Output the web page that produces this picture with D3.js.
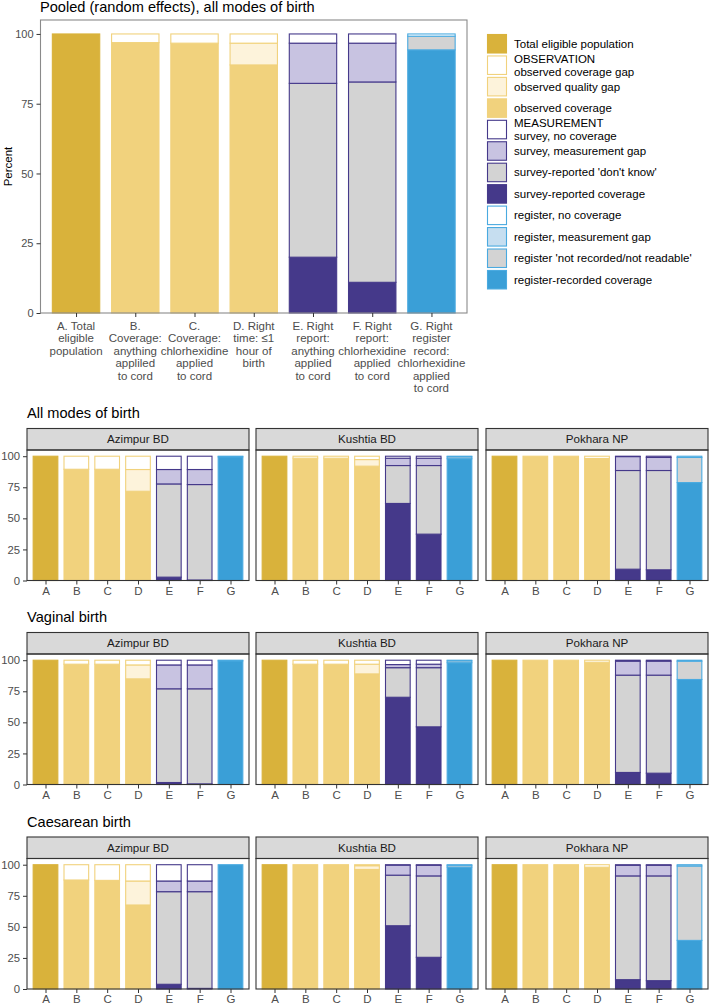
<!DOCTYPE html>
<html><head><meta charset="utf-8">
<script src="https://cdn.jsdelivr.net/npm/d3@7"></script>
<style>body{margin:0;background:#fff}svg{display:block;font-family:"Liberation Sans",Arial,sans-serif}</style>
</head><body><svg id="c" width="709" height="1004"></svg>
<script>
// ---------- DATA ----------
const barCodes = ["A","B","C","D","E","F","G"];
const pooledLabels = [
  ["A. Total","eligible","population"],
  ["B.","Coverage:","anything","appliled","to cord"],
  ["C.","Coverage:","chlorhexidine","applied","to cord"],
  ["D. Right","time: \u22641","hour of","birth"],
  ["E. Right","report:","anything","applied","to cord"],
  ["F. Right","report:","chlorhexidine","applied","to cord"],
  ["G. Right","register","record:","chlorhexidine","applied","to cord"]
];
// segment types per bar, stacked bottom -> top
const barSegmentTypes = [
  ["total"],
  ["obsCov","obsQual","obsGap"],
  ["obsCov","obsQual","obsGap"],
  ["obsCov","obsQual","obsGap"],
  ["svCov","svDK","svGap","svNo"],
  ["svCov","svDK","svGap","svNo"],
  ["rgCov","rgNR","rgGap","rgNo"]
];
const pooledValues = [[100],[96.9,0,3.1],[96.7,0,3.3],[88.9,7.8,3.3],[20,62.3,14.4,3.3],[11,71.8,13.9,3.3],[94.3,4.9,0,0.8]];

const siteNames = ["Azimpur BD","Kushtia BD","Pokhara NP"];
const modeTitles = ["All modes of birth","Vaginal birth","Caesarean birth"];

const allAzimpur = [[100],[89.5,0,10.5],[89.5,0,10.5],[71.8,17.5,10.7],[2.7,75,11.6,10.7],[0.4,76.8,12.1,10.7],[99.5,0,0,0.5]];
const allKushtia = [[100],[98.4,0,1.6],[98.4,0,1.6],[92,5.3,2.7],[62,30.5,5.9,1.6],[37.3,55.2,5.9,1.6],[98,1.5,0,0.5]];
const allPokhara = [[100],[100,0,0],[100,0,0],[98.2,0,1.8],[9.1,79.4,11.2,0.3],[8.6,79.9,10.5,1],[78.8,20.2,0,1]];

const vagAzimpur = [[100],[96.8,0,3.2],[96.8,0,3.2],[85,11.2,3.8],[1.6,75.4,19.2,3.8],[0.5,76.5,19.2,3.8],[99.5,0,0,0.5]];
const vagKushtia = [[100],[96.8,0,3.2],[96.8,0,3.2],[89,7.8,3.2],[70.2,23.8,2.5,3.5],[46.4,47.6,2.8,3.2],[98,1.5,0,0.5]];
const vagPokhara = [[100],[100,0,0],[100,0,0],[98.4,0,1.6],[9.7,78.3,11.2,0.8],[9.1,78.9,11.2,0.8],[84.5,14.7,0,0.8]];

const caeAzimpur = [[100],[87.7,0,12.3],[87.4,0,12.6],[67.6,19.3,13.1],[3.8,74.5,8.6,13.1],[0.5,77.8,8.6,13.1],[100,0,0,0]];
const caeKushtia = [[100],[100,0,0],[100,0,0],[96.2,3,0.8],[50.9,40.7,8,0.4],[25.5,65.5,8.5,0.5],[98.1,1.4,0,0.5]];
const caePokhara = [[100],[100,0,0],[100,0,0],[98,0,2],[7.5,83.5,8.5,0.5],[6.7,84.3,8.5,0.5],[39.1,59.9,0,1]];

const facetValues = [
  [allAzimpur, allKushtia, allPokhara],
  [vagAzimpur, vagKushtia, vagPokhara],
  [caeAzimpur, caeKushtia, caePokhara]
];
const yTicks = [0,25,50,75,100];

const legendTypes = ["total","obsGap","obsQual","obsCov","svNo","svGap","svDK","svCov","rgNo","rgGap","rgNR","rgCov"];
const legendLabels = [
  ["Total eligible population"],
  ["OBSERVATION","observed coverage gap"],
  ["observed quality gap"],
  ["observed coverage"],
  ["MEASUREMENT","survey, no coverage"],
  ["survey, measurement gap"],
  ["survey-reported 'don't know'"],
  ["survey-reported coverage"],
  ["register, no coverage"],
  ["register, measurement gap"],
  ["register 'not recorded/not readable'"],
  ["register-recorded coverage"]
];

// ---------- STYLES ----------
const GOLD="#D9B23B", YEL="#F1D27D", PUR="#45398A", BLU="#3A9FD7", BLUO="#4AAAE0";
const style = {
  total:{fill:GOLD,stroke:GOLD},
  obsCov:{fill:YEL,stroke:YEL},
  obsQual:{fill:"#FDF3DB",stroke:YEL},
  obsGap:{fill:"#FFFFFF",stroke:YEL},
  svCov:{fill:PUR,stroke:PUR},
  svDK:{fill:"#D3D3D3",stroke:PUR},
  svGap:{fill:"#C8C3E1",stroke:PUR},
  svNo:{fill:"#FFFFFF",stroke:PUR},
  rgCov:{fill:BLU,stroke:BLUO},
  rgNR:{fill:"#D3D3D3",stroke:BLUO},
  rgGap:{fill:"#C6DEF0",stroke:BLUO},
  rgNo:{fill:"#FFFFFF",stroke:BLUO}
};
const AX="#4D4D4D";

const svg = d3.select("#c");

function drawBars(g, x, y, values, bw, sw){
  values.forEach((segs,i)=>{
    const code = barCodes[i];
    const types = barSegmentTypes[i];
    let cum = 0;
    segs.forEach((v,j)=>{
      if(v<=0) return;
      const t = types[j];
      g.append("rect")
        .attr("x", x(code)-bw/2).attr("y", y(cum+v))
        .attr("width", bw).attr("height", y(cum)-y(cum+v))
        .attr("fill", style[t].fill).attr("stroke", style[t].stroke)
        .attr("stroke-width", sw);
      cum += v;
    });
  });
}

// ---------- TOP POOLED CHART ----------
{
  const L=40.5, R=467, T=20, B=313;
  const x = d3.scalePoint().domain(barCodes).range([L,R]).padding(0.6);
  const y = d3.scaleLinear().domain([0,105]).range([B,T]);
  const bw = x.step()*0.8;
  svg.append("text").attr("x",40).attr("y",11.5).attr("font-size",14.6).attr("fill","#000")
    .text("Pooled (random effects), all modes of birth");
  const g = svg.append("g");
  drawBars(g,x,y,pooledValues,bw,1.1);
  svg.append("rect").attr("x",L).attr("y",T).attr("width",R-L).attr("height",B-T)
    .attr("fill","none").attr("stroke","#8a8a8a").attr("stroke-width",1.1);
  // y axis
  const ya = svg.append("g").attr("transform",`translate(${L},0)`)
    .call(d3.axisLeft(y).tickValues(yTicks).tickSize(4).tickPadding(3));
  ya.select(".domain").remove();
  ya.selectAll("line").attr("stroke","#333");
  ya.selectAll("text").attr("font-size",11).attr("fill",AX).attr("font-family","Liberation Sans, Arial, sans-serif");
  // x axis
  const xa = svg.append("g").attr("transform",`translate(0,${B})`)
    .call(d3.axisBottom(x).tickSize(4).tickFormat(""));
  xa.select(".domain").remove();
  xa.selectAll("line").attr("stroke","#333");
  barCodes.forEach((c,i)=>{
    const t = svg.append("text").attr("x",x(c)).attr("text-anchor","middle")
      .attr("font-size",11.5).attr("fill",AX);
    pooledLabels[i].forEach((ln,k)=>{
      t.append("tspan").attr("x",x(c)).attr("y",329.5+k*12.5).text(ln);
    });
  });
  svg.append("text").attr("transform",`translate(12,${(T+B)/2}) rotate(-90)`)
    .attr("text-anchor","middle").attr("font-size",11.5).attr("fill","#000").text("Percent");

  // legend
  const lx=487, ly0=34, step=21.45, kw=20, kh=19.5;
  legendTypes.forEach((t,i)=>{
    const ky = ly0+i*step;
    svg.append("rect").attr("x",lx+0.5).attr("y",ky+0.5).attr("width",kw-1).attr("height",kh-1)
      .attr("fill",style[t].fill).attr("stroke",style[t].stroke).attr("stroke-width",1.1);
    const lines = legendLabels[i];
    const cy = ky+kh/2;
    const txt = svg.append("text").attr("font-size",11.5).attr("fill","#000");
    lines.forEach((ln,k)=>{
      const off = (k-(lines.length-1)/2)*12.6;
      txt.append("tspan").attr("x",514).attr("y",cy+off+4).text(ln);
    });
  });
}

// ---------- FACET ROWS ----------
const panelXs = [[27,249],[256,478],[486,708]];
const stripTops = [428.5,632.5,837];
const stripH = 21.5, panelH = 130.5;
modeTitles.forEach((title,r)=>{
  const st = stripTops[r];
  const T = st+stripH, B = T+panelH;
  svg.append("text").attr("x",27).attr("y",st-10.5).attr("font-size",14.6).attr("fill","#000").text(title);
  const y = d3.scaleLinear().domain([0,105]).range([B,T]);
  siteNames.forEach((site,c)=>{
    const [L,R] = panelXs[c];
    const x = d3.scalePoint().domain(barCodes).range([L,R]).padding(0.6);
    const bw = x.step()*0.8;
    // strip
    svg.append("rect").attr("x",L).attr("y",st).attr("width",R-L).attr("height",stripH)
      .attr("fill","#D9D9D9").attr("stroke","#333").attr("stroke-width",1.1);
    svg.append("text").attr("x",(L+R)/2).attr("y",st+stripH/2+4).attr("text-anchor","middle")
      .attr("font-size",11.6).attr("fill","#1A1A1A").text(site);
    const g = svg.append("g");
    drawBars(g,x,y,facetValues[r][c],bw,1.1);
    svg.append("rect").attr("x",L).attr("y",T).attr("width",R-L).attr("height",B-T)
      .attr("fill","none").attr("stroke","#333").attr("stroke-width",1.1);
    const xa = svg.append("g").attr("transform",`translate(0,${B})`)
      .call(d3.axisBottom(x).tickSize(4).tickPadding(2));
    xa.select(".domain").remove();
    xa.selectAll("line").attr("stroke","#333");
    xa.selectAll("text").attr("font-size",11.5).attr("fill",AX).attr("font-family","Liberation Sans, Arial, sans-serif");
    if(c===0){
      const ya = svg.append("g").attr("transform",`translate(${L},0)`)
        .call(d3.axisLeft(y).tickValues(yTicks).tickSize(4).tickPadding(3));
      ya.select(".domain").remove();
      ya.selectAll("line").attr("stroke","#333");
      ya.selectAll("text").attr("font-size",11.3).attr("fill",AX).attr("font-family","Liberation Sans, Arial, sans-serif");
    }
  });
});
</script></body></html>
